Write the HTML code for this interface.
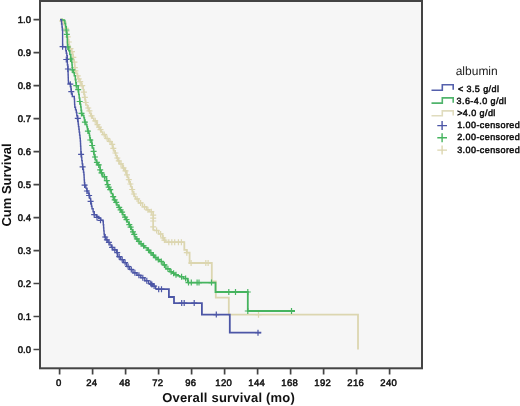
<!DOCTYPE html>
<html><head><meta charset="utf-8"><style>
html,body{margin:0;padding:0;background:#fff;width:520px;height:406px;overflow:hidden}
svg{display:block;will-change:transform}
text{font-family:"Liberation Sans",sans-serif;text-rendering:geometricPrecision;-webkit-font-smoothing:antialiased}
</style></head><body>
<svg width="520" height="406" viewBox="0 0 520 406">
<rect x="0" y="0" width="520" height="406" fill="#fff"/>
<rect x="40" y="1" width="382" height="367.3" fill="#f6f6f6" stroke="#444" stroke-width="2"/>
<g fill="none" stroke-linejoin="miter" stroke-linecap="butt">
<path d="M60.0,19.6H61.0V21.0H63.1V22.0H64.2V25.1H65.4V28.3H66.1V31.2H66.8V34.2H67.4V36.8H67.9V39.4H68.5V42.0H69.2V45.4H69.8V48.7H71.2V51.7H72.7V54.6H73.1V57.3H73.5V60.0H74.1V62.2H74.7V64.5H74.8V67.7H74.8V70.9H76.0V73.3H77.2V75.8H78.2V78.8H79.2V81.7H81.2V85.7H83.2V89.6H83.7V92.1H84.1V94.6H84.6V97.3H85.1V100.0H85.5V102.5H85.9V105.0H87.4V108.0H88.9V110.9H89.8V113.3H90.8V115.8H92.3V118.3H93.8V120.8H96.7V124.7H98.2V127.2H99.7V129.6H101.2V132.1H102.7V134.6H105.6V138.5H108.6V141.5H111.5V144.4H112.8V148.4H113.9V150.7H115.0V153.0H115.8V155.5H116.6V158.0H118.1V160.9H119.6V163.9H122.5V167.9H124.5V170.8H126.5V174.8H127.5V177.2H128.4V179.7H129.2V181.8H129.9V184.0H130.9V186.8H131.9V189.5H132.6V191.8H133.3V194.0H134.4V196.4H135.6V198.9H138.6V202.9H142.5V206.8H146.5V209.8H149.4V211.7H153.2V215.1H153.2V218.1H153.2V221.0H153.2V224.0H153.2V226.9H153.2V229.9H154.6V230.5H158.6V233.9H162.5V237.9H163.8V240.1H165.1V242.2" stroke="#dcd6b0" stroke-width="1.5"/>
<path d="M165.1,242.2H184.3V249.8H186.8V252.7H189.6V263H211.8V281.5H215.8V297.7H228.8V314.7H358V349.5" stroke="#dcd6b0" stroke-width="1.8"/>
<path d="M62.0,18.0V24.0M59.0,21.0H65.0M63.7,19.0V25.0M60.7,22.0H66.7M65.8,25.3V31.3M62.8,28.3H68.8M66.4,28.2V34.2M63.4,31.2H69.4M67.7,33.8V39.8M64.7,36.8H70.7M68.8,39.0V45.0M65.8,42.0H71.8M70.5,45.7V51.7M67.5,48.7H73.5M72.0,48.7V54.7M69.0,51.7H75.0M73.3,54.3V60.3M70.3,57.3H76.3M74.4,59.2V65.2M71.4,62.2H77.4M74.8,64.7V70.7M71.8,67.7H77.8M75.4,67.9V73.9M72.4,70.9H78.4M77.7,72.8V78.8M74.7,75.8H80.7M78.7,75.8V81.8M75.7,78.8H81.7M80.2,78.7V84.7M77.2,81.7H83.2M82.2,82.7V88.7M79.2,85.7H85.2M83.9,89.1V95.1M80.9,92.1H86.9M84.8,94.3V100.3M81.8,97.3H87.8M85.7,99.5V105.5M82.7,102.5H88.7M88.2,105.0V111.0M85.2,108.0H91.2M89.4,107.9V113.9M86.4,110.9H92.4M91.5,112.8V118.8M88.5,115.8H94.5M95.2,117.8V123.8M92.2,120.8H98.2M97.5,121.7V127.7M94.5,124.7H100.5M99.0,124.2V130.2M96.0,127.2H102.0M100.5,126.6V132.6M97.5,129.6H103.5M104.2,131.6V137.6M101.2,134.6H107.2M107.1,135.5V141.5M104.1,138.5H110.1M110.0,138.5V144.5M107.0,141.5H113.0M112.2,141.4V147.4M109.2,144.4H115.2M113.3,145.4V151.4M110.3,148.4H116.3M115.4,150.0V156.0M112.4,153.0H118.4M117.3,155.0V161.0M114.3,158.0H120.3M118.8,157.9V163.9M115.8,160.9H121.8M121.0,160.9V166.9M118.0,163.9H124.0M123.5,164.9V170.9M120.5,167.9H126.5M125.5,167.8V173.8M122.5,170.8H128.5M127.0,171.8V177.8M124.0,174.8H130.0M128.8,176.7V182.7M125.8,179.7H131.8M130.4,181.0V187.0M127.4,184.0H133.4M132.2,186.5V192.5M129.2,189.5H135.2M133.9,191.0V197.0M130.9,194.0H136.9M137.1,195.9V201.9M134.1,198.9H140.1M140.6,199.9V205.9M137.6,202.9H143.6M144.5,203.8V209.8M141.5,206.8H147.5M147.9,206.8V212.8M144.9,209.8H150.9M151.3,208.7V214.7M148.3,211.7H154.3M153.2,212.1V218.1M150.2,215.1H156.2M153.2,215.1V221.1M150.2,218.1H156.2M153.2,218.0V224.0M150.2,221.0H156.2M153.2,223.9V229.9M150.2,226.9H156.2M156.6,227.5V233.5M153.6,230.5H159.6M160.6,230.9V236.9M157.6,233.9H163.6M163.2,234.9V240.9M160.2,237.9H166.2M164.4,237.1V243.1M161.4,240.1H167.4M168.8,239.2V245.2M165.8,242.2H171.8M171.8,239.2V245.2M168.8,242.2H174.8M174.7,239.2V245.2M171.7,242.2H177.7M178.4,239.2V245.2M175.4,242.2H181.4M181.4,239.2V245.2M178.4,242.2H184.4M186.8,249.7V255.7M183.8,252.7H189.8M191.1,260.0V266.0M188.1,263.0H194.1M205.8,260.0V266.0M202.8,263.0H208.8M208.1,260.0V266.0M205.1,263.0H211.1M258.5,311.7V317.7M255.5,314.7H261.5" stroke="#dcd6b0" stroke-width="1.2"/>
<path d="M60.0,19.6H62.0V20.0H64.2V20.4H64.9V23.6H65.6V26.8H66.3V30.0H66.5V32.2H66.8V34.4H67.0V37.2H67.3V40.0H67.4V43.4H67.5V46.7H68.8V50.7H69.8V54.6H70.8V58.5H71.7V62.5H72.0V65.0H72.2V67.4H72.5V69.9H73.4V72.8H74.3V75.8H75.3V79.8H75.8V82.8H76.3V85.7H78.2V89.6H78.5V92.1H78.7V94.6H79.2V98.0H79.7V101.5H80.2V104.2H80.7V107.0H81.1V110.2H81.5V113.4H82.7V115.6H83.9V117.8H84.4V120.0H84.9V122.2H85.9V124.5H86.9V126.7H87.4V128.9H87.9V131.1H88.7V133.3H89.4V135.5H89.8V137.8H90.3V140.0H91.8V143.4H92.2V145.7H92.5V148.0H93.6V152.0H94.0V154.5H94.5V157.0H95.4V160.0H96.4V162.4H97.4V164.9H99.9V167.0H100.1V169.9H100.3V172.8H102.8V176.7H106.3V180.7H107.2V184.6H108.2V187.1H109.2V189.6H111.2V193.5H112.6V196.7H113.9V199.9H115.4V202.4H116.9V204.9H118.4V207.4H119.9V209.8H121.3V212.2H122.8V214.7H124.3V217.1H125.8V219.6H127.2V222.1H128.7V224.6H129.9V227.1H131.2V229.5H132.4V231.9H133.6V234.4H134.8V236.7H135.9V238.9H137.9V241.4H139.9V243.8H142.4V245.8H144.8V247.7H147.2V250.2H149.7V252.7H152.1V255.2H154.6V257.6H157.1V259.6H159.6V261.5H163.0V264.9H165.9V268.8H169.9V271.7H172.4V273.2H174.8V274.7H177.2V275.7H179.7V276.7H183.6V278.6H187.6V282.6" stroke="#46b45f" stroke-width="1.5"/>
<path d="M187.6,282.6H215.5V292H247.8V311H295" stroke="#46b45f" stroke-width="1.8"/>
<path d="M66.3,27.0V33.0M63.3,30.0H69.3M66.8,31.4V37.4M63.8,34.4H69.8M67.8,44.0V50.0M64.8,47.0H70.8M70.5,56.0V62.0M67.5,59.0H73.5M72.3,66.9V72.9M69.3,69.9H75.3M76.3,82.7V88.7M73.3,85.7H79.3M78.2,86.6V92.6M75.2,89.6H81.2M79.7,98.5V104.5M76.7,101.5H82.7M81.5,110.4V116.4M78.5,113.4H84.5M84.9,119.2V125.2M81.9,122.2H87.9M87.9,128.1V134.1M84.9,131.1H90.9M90.3,137.0V143.0M87.3,140.0H93.3M92.2,142.5V148.5M89.2,145.5H95.2M93.6,148.4V154.4M90.6,151.4H96.6M95.0,154.0V160.0M92.0,157.0H98.0M96.9,159.4V165.4M93.9,162.4H99.9M98.7,161.9V167.9M95.7,164.9H101.7M100.2,166.9V172.9M97.2,169.9H103.2M101.5,169.8V175.8M98.5,172.8H104.5M104.5,173.7V179.7M101.5,176.7H107.5M106.8,177.7V183.7M103.8,180.7H109.8M107.7,181.6V187.6M104.7,184.6H110.7M108.7,184.1V190.1M105.7,187.1H111.7M110.2,186.6V192.6M107.2,189.6H113.2M113.2,193.7V199.7M110.2,196.7H116.2M114.7,196.9V202.9M111.7,199.9H117.7M116.2,199.4V205.4M113.2,202.4H119.2M119.2,204.4V210.4M116.2,207.4H122.2M120.6,206.8V212.8M117.6,209.8H123.6M122.1,209.2V215.2M119.1,212.2H125.1M125.0,214.1V220.1M122.0,217.1H128.1M126.5,216.6V222.6M123.5,219.6H129.5M129.3,221.6V227.6M126.3,224.6H132.3M130.6,224.1V230.1M127.6,227.1H133.6M133.0,228.9V234.9M130.0,231.9H136.0M134.2,231.4V237.4M131.2,234.4H137.2M136.9,235.9V241.9M133.9,238.9H139.9M138.9,238.4V244.4M135.9,241.4H141.9M141.1,240.8V246.8M138.1,243.8H144.1M143.6,242.8V248.8M140.6,245.8H146.6M148.5,247.2V253.2M145.5,250.2H151.5M150.9,249.7V255.7M147.9,252.7H153.9M153.4,252.2V258.1M150.4,255.2H156.4M155.8,254.6V260.6M152.8,257.6H158.8M158.3,256.6V262.6M155.3,259.6H161.3M161.3,258.5V264.5M158.3,261.5H164.3M164.4,261.9V267.9M161.4,264.9H167.4M167.9,265.8V271.8M164.9,268.8H170.9M171.1,268.7V274.7M168.1,271.7H174.1M173.6,270.2V276.2M170.6,273.2H176.6M176.0,271.7V277.7M173.0,274.7H179.0M181.6,273.7V279.7M178.6,276.7H184.6M185.6,275.6V281.6M182.6,278.6H188.6M188.5,279.6V285.6M185.5,282.6H191.5M191.3,279.6V285.6M188.3,282.6H194.3M197.1,279.6V285.6M194.1,282.6H200.1M199.0,279.6V285.6M196.0,282.6H202.0M211.5,279.6V285.6M208.5,282.6H214.5M228.8,289.0V295.0M225.8,292.0H231.8M235.5,289.0V295.0M232.5,292.0H238.5M247.8,289.0V295.0M244.8,292.0H250.8M247.8,308.0V314.0M244.8,311.0H250.8M291.5,308.0V314.0M288.5,311.0H294.5" stroke="#46b45f" stroke-width="1.2"/>
<path d="M60.0,19.6H61.3V21.0H61.6V24.0H62.0V27.0H62.3V30.0H62.6V33.0H62.6V35.7H62.6V38.5H62.6V41.2H62.6V44.0H62.6V46.7H65.8V50.7H66.3V53.2H66.8V55.6H67.3V59.5H67.3V62.2H67.4V65.0H67.9V69.0H68.0V71.8H68.1V74.7H68.2V77.5H68.3V80.4H68.4V83.2H70.3V84.2H70.6V86.7H71.0V89.1H71.3V91.6H71.8V94.0H72.3V96.5H74.3V99.0H74.5V101.8H74.6V104.5H74.8V107.3H75.5V109.9H76.3V112.5H76.8V115.8H77.4V119.0H77.8V121.5H78.2V124.1H78.5V126.6H78.9V129.2H79.2V132.1H79.6V135.1H80.0V138.1H80.3V141.0H80.5V143.7H80.6V146.3H80.8V149.0H80.9V151.6H81.1V154.3H81.5V157.5H81.8V160.6H82.2V163.8H82.6V166.9H83.0V169.5H83.5V172.2H83.9V174.8H84.1V177.4H84.2V179.9H84.4V182.5H84.6V185.1H85.8V188.1H86.9V191.0H88.0V193.2H89.1V195.5H89.8V198.4H90.6V201.4H91.1V203.8H91.5V206.3H92.0V208.7H93.1V211.7H94.2V214.7H96.5V216.5H98.7V218.3H100.8V220.1H103.0V221.8H103.3V224.8H103.6V227.9H103.8V230.9H104.1V234.0H104.4V237.0H105.9V239.9H107.9V242.4H109.9V244.9H111.3V247.4H112.8V249.8H116.7V252.7H117.7V256.7H120.7V259.6H123.6V262.6H126.6V266.5H129.6V269.5H133.0V272.8H136.9V275.3H140.8V277.7H144.8V280.7H148.7V283.6H152.7V286.1H155.6V289.2" stroke="#4c56a6" stroke-width="1.4"/>
<path d="M155.6,289.2H168.9V297H174V303.1H201.9V314.6H229.8V332.7H261.3" stroke="#4c56a6" stroke-width="1.8"/>
<path d="M62.6,43.7V49.7M59.6,46.7H65.6M66.3,56.5V62.5M63.3,59.5H69.3M67.9,66.0V72.0M64.9,69.0H70.9M70.3,81.2V87.2M67.3,84.2H73.3M71.3,88.6V94.6M68.3,91.6H74.3M77.8,115.4V121.4M74.8,118.4H80.8M81.1,151.3V157.3M78.1,154.3H84.1M82.6,163.9V169.9M79.6,166.9H85.6M84.6,182.1V188.1M81.6,185.1H87.6M86.9,188.0V194.0M83.9,191.0H89.9M89.1,192.5V198.5M86.1,195.5H92.1M90.6,198.4V204.4M87.6,201.4H93.6M94.2,211.7V217.7M91.2,214.7H97.2M97.0,214.4V220.4M94.0,217.4H100.0M100.5,217.3V223.3M97.5,220.3H103.5M105.2,234.0V240.0M102.2,237.0H108.2M106.9,236.9V242.9M103.9,239.9H109.9M108.9,239.4V245.4M105.9,242.4H111.9M112.1,244.4V250.4M109.1,247.4H115.1M114.8,246.8V252.8M111.8,249.8H117.8M117.2,249.7V255.7M114.2,252.7H120.2M119.2,253.7V259.7M116.2,256.7H122.2M122.2,256.6V262.6M119.2,259.6H125.2M125.1,259.6V265.6M122.1,262.6H128.1M128.1,263.5V269.5M125.1,266.5H131.1M131.3,266.5V272.5M128.3,269.5H134.3M134.9,269.8V275.8M131.9,272.8H137.9M138.9,272.3V278.3M135.9,275.3H141.9M142.8,274.7V280.7M139.8,277.7H145.8M146.8,277.7V283.7M143.8,280.7H149.8M150.7,280.6V286.6M147.7,283.6H153.7M154.1,283.1V289.1M151.1,286.1H157.1M151.9,281.4V287.4M148.9,284.4H154.9M158.7,286.2V292.2M155.7,289.2H161.7M161.5,286.2V292.2M158.5,289.2H164.5M181.7,300.1V306.1M178.7,303.1H184.7M184.2,300.1V306.1M181.2,303.1H187.2M194.2,300.1V306.1M191.2,303.1H197.2M216.3,311.6V317.6M213.3,314.6H219.3M258.0,329.7V335.7M255.0,332.7H261.0" stroke="#4c56a6" stroke-width="1.2"/>
</g>
<path d="M59.6,368V374.5M92.6,368V374.5M125.6,368V374.5M158.6,368V374.5M191.6,368V374.5M224.6,368V374.5M257.6,368V374.5M290.6,368V374.5M323.6,368V374.5M356.6,368V374.5M389.6,368V374.5M33.5,349.5H40M33.5,316.5H40M33.5,283.5H40M33.5,250.6H40M33.5,217.6H40M33.5,184.6H40M33.5,151.6H40M33.5,118.6H40M33.5,85.7H40M33.5,52.7H40M33.5,19.7H40" stroke="#444" stroke-width="1.7" fill="none"/>
<g font-size="9.5" fill="#111" stroke="#111" stroke-width="0.5" text-anchor="middle" letter-spacing="0.35"><text x="58.8" y="385.6">0</text><text x="91.8" y="385.6">24</text><text x="124.8" y="385.6">48</text><text x="157.8" y="385.6">72</text><text x="190.8" y="385.6">96</text><text x="223.8" y="385.6">120</text><text x="256.8" y="385.6">144</text><text x="289.8" y="385.6">168</text><text x="322.8" y="385.6">192</text><text x="355.8" y="385.6">216</text><text x="388.8" y="385.6">240</text></g>
<g font-size="9.5" fill="#111" stroke="#111" stroke-width="0.5" text-anchor="end"><text x="31" y="353.0">0.0</text><text x="31" y="320.0">0.1</text><text x="31" y="287.0">0.2</text><text x="31" y="254.1">0.3</text><text x="31" y="221.1">0.4</text><text x="31" y="188.1">0.5</text><text x="31" y="155.1">0.6</text><text x="31" y="122.1">0.7</text><text x="31" y="89.2">0.8</text><text x="31" y="56.2">0.9</text><text x="31" y="23.2">1.0</text></g>
<text x="228.6" y="402" font-size="13" font-weight="bold" fill="#111" text-anchor="middle" letter-spacing="0.2">Overall survival (mo)</text>
<text transform="translate(10.5,185) rotate(-90)" font-size="13" font-weight="bold" fill="#111" text-anchor="middle">Cum Survival</text>
<text x="455.7" y="74.9" font-size="12" fill="#222">albumin</text>
<path d="M431.5,90.2H442.3V84.8H453.2V89.8" stroke="#5560ac" stroke-width="1.6" fill="none"/><path d="M431.5,103.1H442.3V97.9H453.2V102.7" stroke="#50b46c" stroke-width="1.6" fill="none"/><path d="M431.5,115.8H442.3V110.9H453.2V115.4" stroke="#e0dcbe" stroke-width="1.6" fill="none"/><path d="M437.3,125.6H447M442.1,121.1V130.1" stroke="#4c56a6" stroke-width="1.4" fill="none"/><path d="M437.3,137.8H447M442.1,133.3V142.3" stroke="#46b45f" stroke-width="1.4" fill="none"/><path d="M437.3,150.1H447M442.1,145.6V154.6" stroke="#dcd6b0" stroke-width="1.4" fill="none"/>
<g font-size="9" fill="#111" stroke="#111" stroke-width="0.5" letter-spacing="0.42"><text x="457.9" y="91.6">&lt; 3.5 g/dl</text><text x="456.6" y="103.7">3.6-4.0 g/dl</text><text x="457.2" y="116.2">&gt;4.0 g/dl</text><text x="457.2" y="128.2">1.00-censored</text><text x="457.2" y="140.4">2.00-censored</text><text x="457.2" y="152.7">3.00-censored</text></g>
</svg>
</body></html>
